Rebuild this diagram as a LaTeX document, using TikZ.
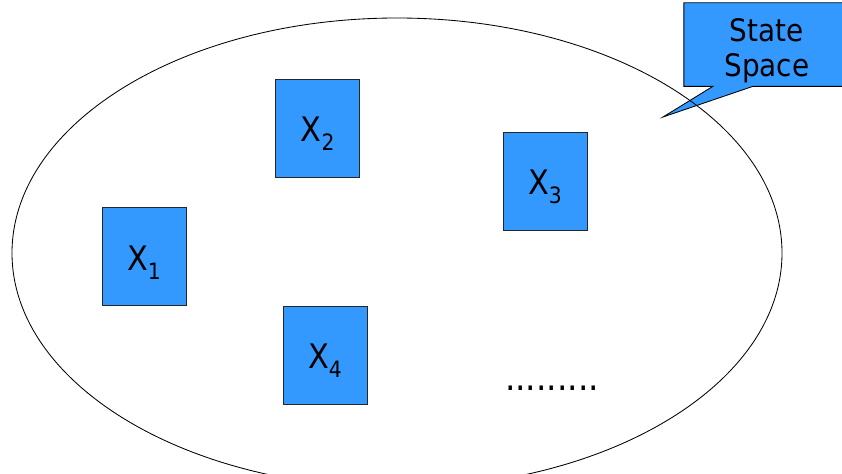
\documentclass[tikz,border=0pt]{standalone}
\usepackage{fontspec}
\setmainfont{DejaVu Sans Condensed}
\usetikzlibrary{shapes.geometric,backgrounds}
\definecolor{boxblue}{RGB}{51,153,255}
\newcommand{\statevar}[1]{X\raisebox{-0.22cm}{\fontsize{16}{16}\selectfont #1}}

\begin{document}
\begin{tikzpicture}[state/.style = {draw=black!85, line width=0.6pt, fill=boxblue, minimum width=2.1cm, minimum height=2.45cm, inner sep=0pt, text height=0.9cm, font=\fontsize{24}{28}\selectfont},
		callout/.style = {draw, line width=0.6pt, fill=boxblue}]
	\useasboundingbox (0,0) rectangle (21.05,11.825);
	% speech bubble in the top right corner
	\node[minimum width=3.975cm, minimum height=2.075cm, inner sep=0pt] (ss) at (19.09,10.71) {};
	\node[align=center, font=\fontsize{22}{24.5}\selectfont] (sslabel) at ([xshift=0.08cm,yshift=-0.15cm]ss.center) {State\\Space};
	\coordinate (tip) at (16.575,8.9);
	\begin{scope}[on background layer]
		\draw[callout] (ss.north west) -- (ss.north east) -- (ss.south east) -- ([xshift=1.725cm]ss.south west) -- (tip) -- ([xshift=0.725cm]ss.south west) -- (ss.south west) -- cycle;
	\end{scope}
	% the space itself
	\node[draw, ellipse, line width=0.6pt, minimum width=19.25cm, minimum height=11.75cm] (space) at (9.925,5.5) {};
	\node[state] (x1) at (3.6,5.41) {\statevar{1}};
	\node[state] (x2) at (7.94,8.625) {\statevar{2}};
	\node[state] (x3) at (13.625,7.29) {\statevar{3}};
	\node[state] (x4) at (8.125,2.95) {\statevar{4}};
	\node[font=\fontsize{26}{28}\selectfont] (more) at (13.8,2.125) {.........};
\end{tikzpicture}
\end{document}
